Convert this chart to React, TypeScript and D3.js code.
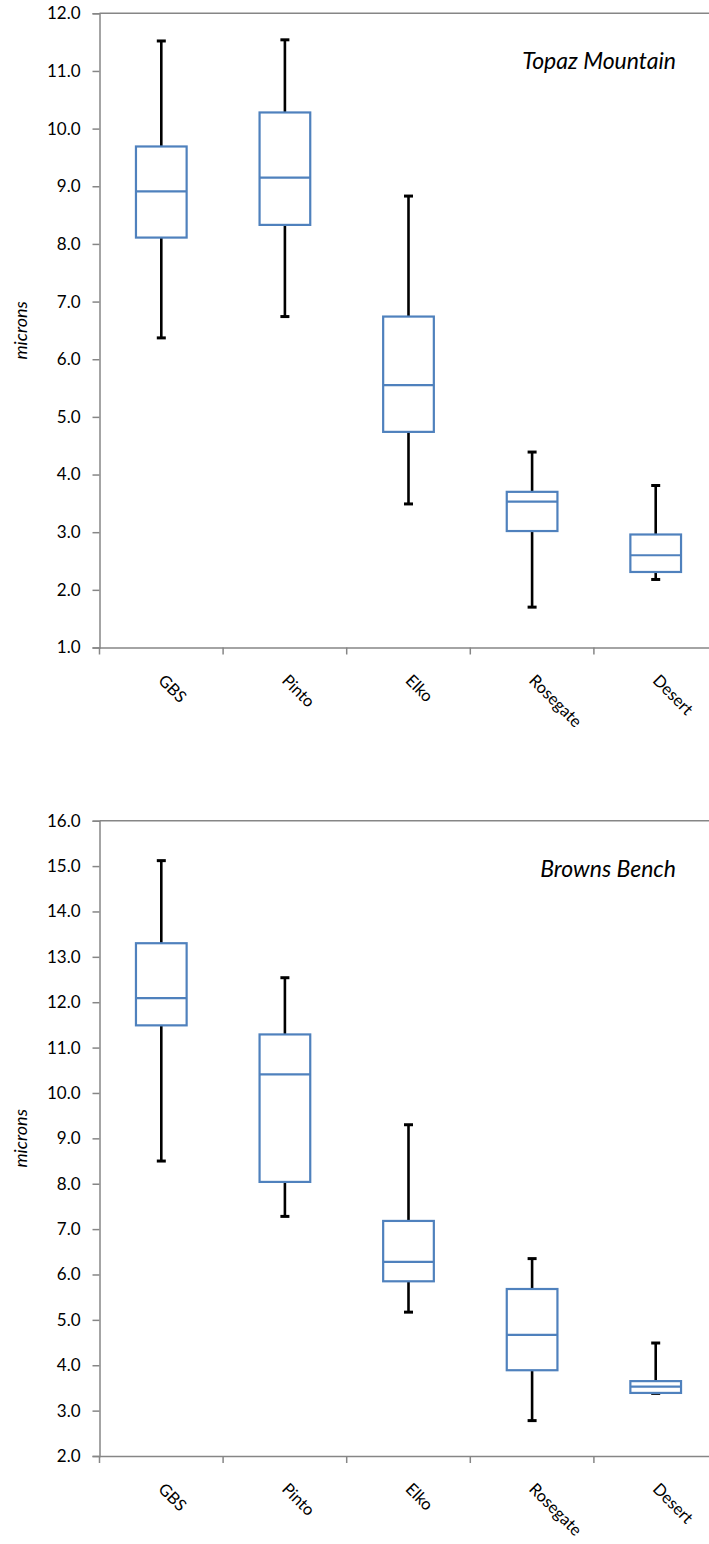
import React, { useEffect, useRef } from 'react';
import * as d3 from 'd3';

const categories = ['GBS', 'Pinto', 'Elko', 'Rosegate', 'Desert'];

// Topaz Mountain
const topazMin = [6.37, 6.74, 3.49, 1.70, 2.18];
const topazQ1 = [8.11, 8.33, 4.74, 3.02, 2.31];
const topazMedian = [8.91, 9.15, 5.55, 3.53, 2.60];
const topazQ3 = [9.69, 10.28, 6.74, 3.70, 2.96];
const topazMax = [11.52, 11.54, 8.83, 4.39, 3.81];

// Browns Bench
const brownsMin = [8.50, 7.28, 5.17, 2.78, 3.38];
const brownsQ1 = [11.49, 8.04, 5.85, 3.89, 3.39];
const brownsMedian = [12.09, 10.41, 6.28, 4.67, 3.53];
const brownsQ3 = [13.30, 11.29, 7.18, 5.68, 3.65];
const brownsMax = [15.12, 12.54, 9.30, 6.35, 4.49];

const topazTicks = d3.range(1, 13);
const brownsTicks = d3.range(2, 17);

const W = 709;
const H = 1544;
const FONT = 'Lato, "Open Sans", sans-serif';
const AXIS = '#868686';
const BLUE = '#4F81BD';

function drawPanel(svg, opts) {
  const { top, bottom, domain, ticks, title, min, q1, med, q3, max } = opts;
  const left = 99.5;
  const x = d3.scaleBand().domain(categories).range([left, left + 5 * 123.6]).padding(0);
  const y = d3.scaleLinear().domain(domain).range([bottom, top]);
  const g = svg.append('g');

  // top edge of the plot frame
  g.append('line')
    .attr('x1', left).attr('x2', W)
    .attr('y1', top).attr('y2', top)
    .attr('stroke', AXIS).attr('stroke-width', 1.5);

  const yAxis = d3.axisLeft(y).tickValues(ticks).tickFormat(d3.format('.1f')).tickSize(7).tickPadding(12);
  const ya = g.append('g').attr('transform', `translate(${left},0)`).call(yAxis);
  ya.select('.domain').attr('stroke', AXIS).attr('stroke-width', 1.5);
  ya.selectAll('.tick line').attr('stroke', AXIS).attr('stroke-width', 1.5);
  ya.selectAll('.tick text').attr('font-family', FONT).attr('font-size', 17).attr('fill', '#000');

  const xAxis = d3.axisBottom(x).tickSize(0).tickFormat(() => '');
  const xa = g.append('g').attr('transform', `translate(0,${bottom})`).call(xAxis);
  xa.select('.domain').attr('stroke', AXIS).attr('stroke-width', 1.5);
  // tick marks sit on the band boundaries
  xa.selectAll('.tick').remove();
  categories.forEach((c) => {
    xa.append('line')
      .attr('x1', x(c)).attr('x2', x(c))
      .attr('y1', 0).attr('y2', 7)
      .attr('stroke', AXIS).attr('stroke-width', 1.5);
  });

  g.selectAll('.cat')
    .data(categories)
    .enter()
    .append('text')
    .attr('transform', (d) => `translate(${x(d) + x.bandwidth() / 2 - 4},${bottom + 34}) rotate(45)`)
    .attr('font-family', FONT)
    .attr('font-size', 16.5)
    .text((d) => d);

  const bw = x.bandwidth() * 0.41;
  const cap = 9;
  categories.forEach((c, i) => {
    const bx = g.append('g');
    const cx = x(c) + x.bandwidth() / 2;
    bx.append('line')
      .attr('x1', cx).attr('x2', cx)
      .attr('y1', y(max[i])).attr('y2', y(min[i]))
      .attr('stroke', '#000').attr('stroke-width', 2.6);
    [max[i], min[i]].forEach((v) => {
      bx.append('line')
        .attr('x1', cx - cap / 2).attr('x2', cx + cap / 2)
        .attr('y1', y(v)).attr('y2', y(v))
        .attr('stroke', '#000').attr('stroke-width', 3);
    });
    bx.append('rect')
      .attr('x', cx - bw / 2).attr('width', bw)
      .attr('y', y(q3[i])).attr('height', y(q1[i]) - y(q3[i]))
      .attr('fill', '#fff').attr('stroke', BLUE).attr('stroke-width', 2.2);
    bx.append('line')
      .attr('x1', cx - bw / 2).attr('x2', cx + bw / 2)
      .attr('y1', y(med[i])).attr('y2', y(med[i]))
      .attr('stroke', BLUE).attr('stroke-width', 2.2);
  });

  g.append('text')
    .attr('x', 676).attr('y', top + 56)
    .attr('text-anchor', 'end')
    .attr('font-family', FONT).attr('font-style', 'italic').attr('font-size', 23)
    .text(title);

  g.append('text')
    .attr('transform', `translate(27,${(top + bottom) / 2}) rotate(-90)`)
    .attr('text-anchor', 'middle')
    .attr('font-family', FONT).attr('font-style', 'italic').attr('font-size', 18)
    .text('microns');
}

export default function App() {
  const ref = useRef(null);

  useEffect(() => {
    const svg = d3.select(ref.current);
    svg.selectAll('*').remove();
    drawPanel(svg, {
      top: 13.3, bottom: 647.5, domain: [1, 12], ticks: topazTicks, title: 'Topaz Mountain',
      min: topazMin, q1: topazQ1, med: topazMedian, q3: topazQ3, max: topazMax
    });
    drawPanel(svg, {
      top: 820.7, bottom: 1456, domain: [2, 16], ticks: brownsTicks, title: 'Browns Bench',
      min: brownsMin, q1: brownsQ1, med: brownsMedian, q3: brownsQ3, max: brownsMax
    });
  }, []);

  return (
    <svg
      ref={ref}
      width={W}
      height={H}
      style={{ position: 'absolute', left: 0, top: 0, background: '#fff' }}
    />
  );
}
